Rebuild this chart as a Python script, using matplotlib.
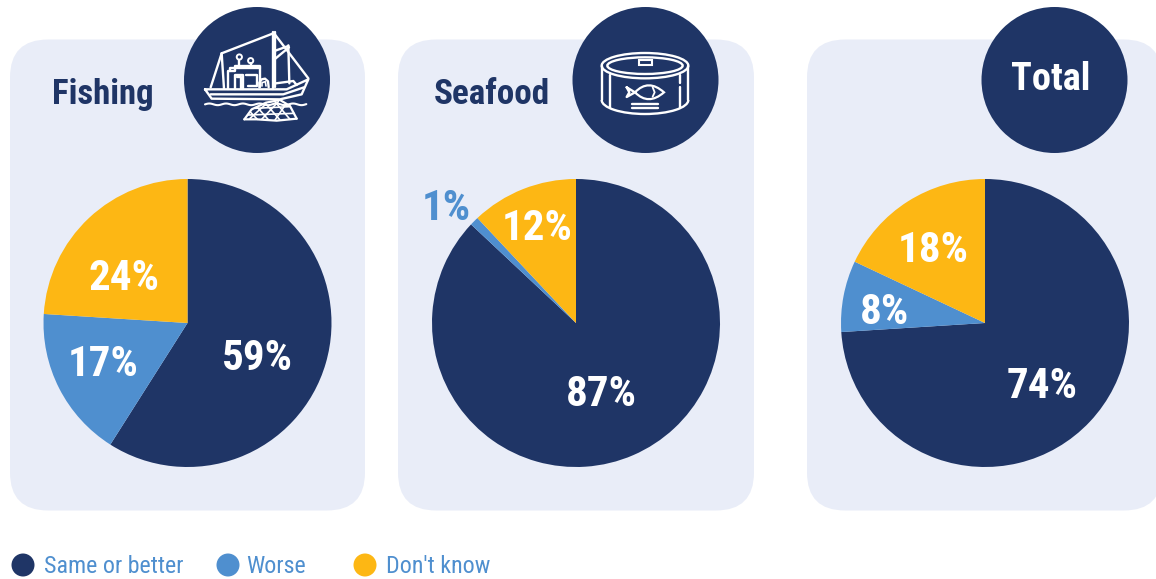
import numpy as np
import matplotlib
matplotlib.use("Agg")
import matplotlib.pyplot as plt
from matplotlib.patches import Circle, FancyBboxPatch, Ellipse, Rectangle, Arc
from matplotlib.path import Path
from matplotlib.patches import PathPatch

W, H = 1156, 579

categories = ["Same or better", "Worse", "Don't know"]
panels = ["Fishing", "Seafood", "Total"]
fishing = [59, 17, 24]
seafood = [87, 1, 12]
total = [74, 8, 18]

NAVY = "#1F3566"
BLUE = "#4F8FCF"
YELLOW = "#FDB714"
PANEL = "#E9EDF8"
slice_colors = [NAVY, BLUE, YELLOW]

plt.rcParams["font.family"] = ["Roboto Condensed", "Liberation Sans Narrow", "Roboto", "DejaVu Sans"]

fig = plt.figure(figsize=(W / 100, H / 100), dpi=100)
ax = fig.add_axes([0, 0, 1, 1])
ax.set_xlim(0, W)
ax.set_ylim(0, H)
ax.axis("off")


def Y(py):
    return H - py


# Rounded background cards
R = 38
for x0, x1 in [(10, 365), (398, 754), (807, 1162)]:
    ax.add_patch(FancyBboxPatch((x0 + R, Y(510.5) + R), x1 - x0 - 2 * R, 471 - 2 * R,
                                boxstyle=f"round,pad={R},rounding_size={R}",
                                fc=PANEL, ec="none", zorder=1, clip_on=True))

# Pies
pie_centres = [187.5, 576, 985]
for cx, vals in zip(pie_centres, [fishing, seafood, total]):
    ax.pie(vals, colors=slice_colors, startangle=90, counterclock=False,
           center=(cx, Y(323)), radius=144, frame=True,
           wedgeprops={"linewidth": 0, "zorder": 2})
ax.set_xlim(0, W)
ax.set_ylim(0, H)
ax.set_aspect("auto")
ax.axis("off")

# Header discs
for cx in [257, 645.5, 1054.5]:
    ax.add_patch(Circle((cx, Y(80)), 73, fc=NAVY, ec="none", zorder=3))


def icon_line(x0, pts, lw=1.7):
    """Polyline in a local icon grid of three units per pixel."""
    xs = [x0 + p[0] / 3 for p in pts]
    ys = [Y(p[1] / 3) for p in pts]
    ax.plot(xs, ys, color="white", lw=lw, solid_capstyle="round",
            solid_joinstyle="round", zorder=4)


# Trawler icon
bx = 180
for seg in [
    [(75, 268), (320, 268), (385, 238), (365, 283), (300, 298), (95, 296), (75, 268)],
    [(92, 283), (310, 283), (372, 262)],
    [(125, 160), (280, 100)], [(125, 160), (132, 266)], [(125, 160), (92, 262)],
    [(278, 97), (278, 266)], [(286, 97), (286, 262)],
    [(286, 152), (325, 138)], [(286, 176), (327, 142)],
    [(325, 136), (328, 250)], [(286, 105), (385, 235)],
    [(288, 250), (340, 243), (350, 255)],
    [(145, 266), (145, 212), (165, 212), (165, 197), (240, 197), (240, 262)],
    [(150, 212), (150, 205), (240, 205)],
    [(165, 266), (165, 225), (190, 225), (190, 266)],
    [(172, 232), (184, 232), (184, 266)],
    [(198, 225), (230, 225), (230, 258), (205, 258)],
    [(178, 180), (178, 197)], [(212, 190), (212, 197)],
]:
    icon_line(bx, seg)
for c in [(178, 171), (212, 182)]:
    ax.add_patch(Circle((bx + c[0] / 3, Y(c[1] / 3)), 2.6, fc="none", ec="white", lw=1.4, zorder=4))
icon_line(bx, [(238, 262), (238, 248), (245, 238), (255, 236), (264, 244), (266, 262)])
icon_line(bx, [(246, 258), (246, 248), (256, 245), (258, 258)], lw=1.2)

# Water line
wave_x = np.arange(75, 382, 4)
icon_line(bx, list(zip(wave_x, 313 + 2.5 * np.sin(wave_x / 8))), lw=1.5)

# Net below the hull
icon_line(bx, [(193, 358), (215, 328), (258, 308), (300, 300), (330, 318), (350, 356)], lw=1.6)
icon_line(bx, [(193, 358), (230, 358), (290, 362), (350, 356)], lw=1.6)
for seg in [[(210, 335), (232, 358)], [(232, 322), (266, 360)], [(258, 312), (300, 360)],
            [(285, 305), (330, 358)], [(210, 355), (258, 312)], [(245, 358), (295, 305)],
            [(285, 360), (318, 312)], [(205, 345), (342, 340)], [(225, 325), (330, 320)]]:
    icon_line(bx, seg, lw=1.2)

# Tin can icon
cxz = 225
tx = 570
for (cy, rx, ry) in [(197, 130, 38), (197, 113, 25)]:
    ax.add_patch(Ellipse((tx + cxz / 3, Y(cy / 3)), 2 * rx / 3, 2 * ry / 3,
                         fc="none", ec="white", lw=1.7, zorder=4))
ax.add_patch(Arc((tx + cxz / 3, Y(300 / 3)), 260 / 3, 84 / 3, theta1=180, theta2=360,
                 ec="white", lw=1.7, zorder=4))
ax.add_patch(Rectangle((tx + 207 / 3, Y(195 / 3)), 38 / 3, 14 / 3, fc=NAVY, ec="white", lw=1.5, zorder=5))
for seg in [
    [(95, 197), (95, 300)], [(355, 197), (355, 300)],
    [(120, 226), (120, 325)], [(330, 226), (330, 250)], [(330, 262), (330, 325)],
    [(187, 313), (265, 313)], [(187, 325), (265, 325)],
    [(170, 262), (195, 277), (170, 291), (178, 277), (170, 262)],
]:
    icon_line(tx, seg)
fish = Path([(tx + 195 / 3, Y(277 / 3)), (tx + 235 / 3, Y(235 / 3)), (tx + 282 / 3, Y(277 / 3)),
             (tx + 235 / 3, Y(318 / 3)), (tx + 195 / 3, Y(277 / 3))],
            [Path.MOVETO, Path.CURVE3, Path.CURVE3, Path.CURVE3, Path.CURVE3])
ax.add_patch(PathPatch(fish, fc="none", ec="white", lw=1.6, zorder=4))
icon_line(tx, [(248, 262), (254, 277), (248, 290)], lw=1.3)

# Panel headings
for name, x, y, c, fs in [(panels[0], 103, 94.5, NAVY, 25), (panels[1], 492, 94.5, NAVY, 25.3),
                          (panels[2], 1051, 79, "white", 27.5)]:
    ax.text(x, Y(y), name, color=c, fontsize=fs, fontweight="bold",
            ha="center", va="center", zorder=6)

# Slice labels
label_pos = [
    (fishing, [(257, 358), (103, 364), (124, 278)]),
    (seafood, [(601, 394), (446, 209), (537, 228)]),
    (total, [(1042, 386), (885, 313), (933, 251)]),
]
for vals, positions in label_pos:
    for v, (x, y) in zip(vals, positions):
        col = BLUE if v == 1 else "white"
        ax.text(x, Y(y), f"{v}%", color=col, fontsize=31, fontweight="bold",
                ha="center", va="center", zorder=6)

# Legend
for cat, col, mx, tx_ in zip(categories, slice_colors, [23, 228, 365], [44, 246, 386]):
    ax.add_patch(Circle((mx, Y(565)), 11.5, fc=col, ec="none", zorder=3))
    ax.text(tx_, Y(566.5), cat, color=BLUE, fontsize=17.3, ha="left", va="center", zorder=6)

fig.savefig("out.png", dpi=100, facecolor="white")
